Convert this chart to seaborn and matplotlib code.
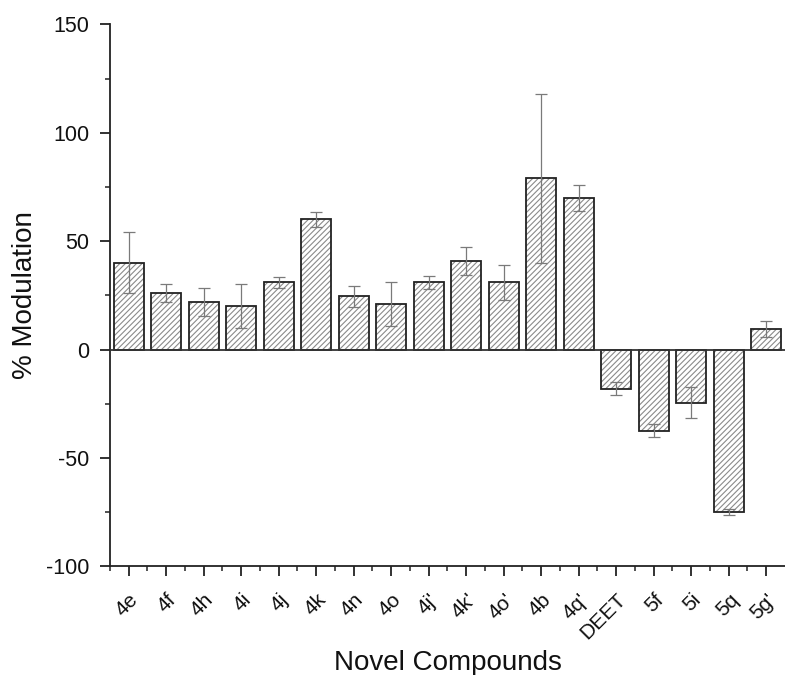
import numpy as np
import pandas as pd
import matplotlib
matplotlib.use("Agg")
import matplotlib.pyplot as plt
from matplotlib.ticker import MultipleLocator
from matplotlib.transforms import ScaledTranslation
import seaborn as sns

compounds = ["4e", "4f", "4h", "4i", "4j", "4k", "4n", "4o", "4j'", "4k'",
             "4o'", "4b", "4q'", "DEET", "5f", "5i", "5q", "5g'"]
modulation = [40, 26, 22, 20, 31, 60, 24.5, 21, 31, 41,
              31, 79, 70, -18, -37.5, -24.5, -75, 9.5]
errors = [14, 4, 6.5, 10, 2.5, 3.5, 5, 10, 3, 6.5,
          8, 39, 6, 3, 3, 7, 1.5, 3.5]

df = pd.DataFrame({"compound": compounds, "modulation": modulation})

sns.set_style("ticks")
plt.rcParams["font.family"] = ["Liberation Sans", "DejaVu Sans"]
plt.rcParams["axes.unicode_minus"] = False
plt.rcParams["hatch.linewidth"] = 0.8
for key in ["text.color", "axes.labelcolor", "xtick.color", "ytick.color"]:
    plt.rcParams[key] = "#111111"

fig = plt.figure(figsize=(7.85, 6.75), dpi=100)
ax = fig.add_axes([0.140, 0.161, 0.86, 0.803])

# hatched fill (grey hatch lines)
sns.barplot(data=df, x="compound", y="modulation", order=compounds,
            color="white", edgecolor="#8a8a8a", hatch="//////",
            linewidth=0, width=0.8, errorbar=None, ax=ax)
# black outlines on top
sns.barplot(data=df, x="compound", y="modulation", order=compounds,
            color="#222222", fill=False, linewidth=1.3, width=0.8,
            errorbar=None, ax=ax)

ax.errorbar(np.arange(len(compounds)), modulation, yerr=errors, fmt="none",
            ecolor="#7a7a7a", elinewidth=0.9, capsize=4, capthick=0.9, zorder=5)

ax.axhline(0, color="#333333", linewidth=1.3, zorder=4)

ax.set_xlim(-0.5, 17.5)
ax.set_ylim(-100, 150)
ax.yaxis.set_major_locator(MultipleLocator(50))
ax.yaxis.set_minor_locator(MultipleLocator(25))
ax.set_xticks(np.arange(len(compounds)))
ax.set_xticks(np.arange(len(compounds)) - 0.5, minor=True)
ax.set_xticklabels(compounds, rotation=45, ha="right", va="top",
                   rotation_mode="anchor")
shift = ScaledTranslation(6 / 100, 0, fig.dpi_scale_trans)
for lbl in ax.get_xticklabels():
    lbl.set_transform(lbl.get_transform() + shift)

ax.tick_params(axis="both", which="major", direction="out", length=7,
               width=1.3, color="#222222")
ax.tick_params(axis="y", which="major", labelsize=15.5, pad=8)
ax.tick_params(axis="x", which="major", labelsize=15, pad=10)
ax.tick_params(axis="both", which="minor", direction="out", length=3.5,
               width=1.1, color="#222222")

sns.despine(ax=ax, top=True, right=True)
for side in ["left", "bottom"]:
    ax.spines[side].set_linewidth(1.3)
    ax.spines[side].set_color("#222222")

ax.set_xlabel("Novel Compounds", fontsize=20)
ax.set_ylabel("% Modulation", fontsize=20)
ax.xaxis.set_label_coords(0.5, -0.155)
ax.yaxis.set_label_coords(-0.107, 0.5)

fig.savefig("out.png", dpi=100)
